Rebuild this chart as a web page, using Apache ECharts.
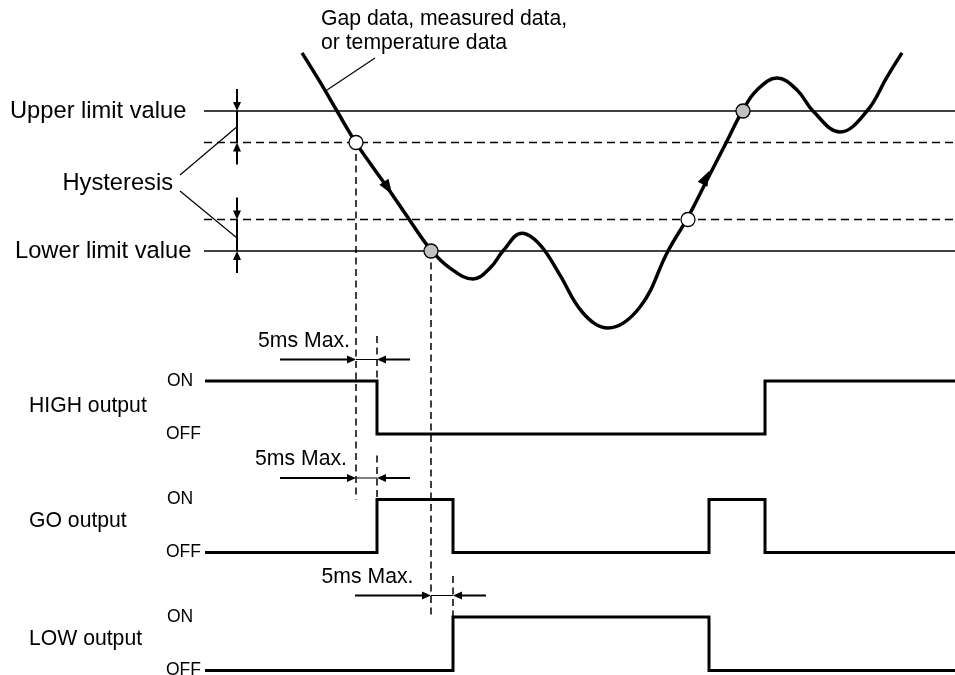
<!DOCTYPE html>
<html>
<head>
<meta charset="utf-8">
<script src="https://cdn.jsdelivr.net/npm/echarts/dist/echarts.min.js"></script>
<style>
html,body{margin:0;padding:0;background:#fff;}
#c{width:955px;height:675px;}
</style>
</head>
<body>
<div id="c"></div>
<script>
// ---------------- data ----------------
// analog signal (gap / measured / temperature data): time vs value
const curveT = [302, 320, 337, 356, 372, 387, 409, 431, 450, 473, 490, 503, 522, 533, 545, 560, 583, 608, 640, 668, 688, 707, 725, 743, 757, 777, 797, 813, 840, 867, 887, 902];
const curveV = [116.6, 108.3, 100.0, 90.9, 84.3, 78.3, 69.1, 60.3, 55.1, 52.0, 55.1, 60.0, 65.1, 63.7, 60.0, 53.1, 42.3, 38.0, 44.0, 60.0, 69.7, 80.3, 90.3, 100.3, 106.0, 109.4, 106.0, 100.0, 94.0, 100.0, 109.7, 116.6];
const upperLimit = 100;
const lowerLimit = 60;
const hysteresis = 9;
const levelLabels = ['Upper limit value', 'Lower limit value'];
const hystLabel = 'Hysteresis';
const curveLabel = ['Gap data, measured data,', 'or temperature data'];
// threshold crossings
const resetT = [356, 688];          // hysteresis line crossings (white markers)
const resetV = [upperLimit - hysteresis, lowerLimit + hysteresis];
const limitT = [431, 743];          // limit line crossings (grey markers)
const limitV = [lowerLimit, upperLimit];
// direction arrows on the curve
const arrowT = [388, 706];
const arrowV = [78.0, 81.0];
// digital outputs: change times and states (1 = ON, 0 = OFF)
const outputNames = ['HIGH output', 'GO output', 'LOW output'];
const stateLabels = ['ON', 'OFF'];
const highT = [205, 377, 765, 955], highS = [1, 0, 1, 1];
const goT   = [205, 377, 453, 709, 765, 955], goS = [0, 1, 0, 1, 0, 0];
const lowT  = [205, 453, 709, 955], lowS = [0, 1, 0, 0];
const delayLabel = '5ms Max.';

// ---------------- layout / style ----------------
const FONT = '"Liberation Sans", Arial, Helvetica, sans-serif';
const lineStart = 204, lineEnd = 955;
const arrowRot = [-147, -27];
const grids = [
  {left: 0, top: 41, width: 955, height: 315},
  {left: 0, top: 381, width: 955, height: 53},
  {left: 0, top: 499.5, width: 955, height: 53},
  {left: 0, top: 617, width: 955, height: 53.5}
];
const yRanges = [[30, 120], [0, 1], [0, 1], [0, 1]];

const chart = echarts.init(document.getElementById('c'), null, {renderer: 'canvas'});
const series = [];
const levels = [
  {v: upperLimit, dashed: false},
  {v: upperLimit - hysteresis, dashed: true},
  {v: lowerLimit + hysteresis, dashed: true},
  {v: lowerLimit, dashed: false}
];
levels.forEach(d => series.push({
  type: 'line', xAxisIndex: 0, yAxisIndex: 0,
  data: [[lineStart, d.v], [lineEnd, d.v]],
  symbol: 'none', clip: false, silent: true, z: 1,
  lineStyle: {color: '#000', width: 1.5, type: d.dashed ? [8, 5] : 'solid'}
}));
series.push({
  type: 'line', xAxisIndex: 0, yAxisIndex: 0,
  data: curveT.map((t, i) => [t, curveV[i]]),
  smooth: 0.4, symbol: 'none', clip: false, silent: true, z: 3,
  lineStyle: {color: '#000', width: 3.5}
});
series.push({
  type: 'scatter', xAxisIndex: 0, yAxisIndex: 0,
  data: arrowT.map((t, i) => ({value: [t, arrowV[i]], symbolRotate: arrowRot[i]})),
  symbol: 'triangle', symbolSize: [11, 15], silent: true, z: 4,
  itemStyle: {color: '#000', opacity: 1}
});
series.push({
  type: 'scatter', xAxisIndex: 0, yAxisIndex: 0,
  data: resetT.map((t, i) => [t, resetV[i]]),
  symbol: 'circle', symbolSize: 14, silent: true, z: 6,
  itemStyle: {color: '#fff', borderColor: '#000', borderWidth: 1.3, opacity: 1}
});
series.push({
  type: 'scatter', xAxisIndex: 0, yAxisIndex: 0,
  data: limitT.map((t, i) => [t, limitV[i]]),
  symbol: 'circle', symbolSize: 14, silent: true, z: 6,
  itemStyle: {color: '#c0c0c0', borderColor: '#000', borderWidth: 1.3, opacity: 1}
});
[[highT, highS], [goT, goS], [lowT, lowS]].forEach(([T, S], i) => series.push({
  type: 'line', xAxisIndex: i + 1, yAxisIndex: i + 1,
  step: 'end', data: T.map((t, j) => [t, S[j]]),
  symbol: 'none', clip: false, silent: true, z: 3,
  lineStyle: {color: '#000', width: 3, join: 'miter', cap: 'butt'}
}));

chart.setOption({
  animation: false,
  backgroundColor: '#fff',
  grid: grids,
  xAxis: grids.map((g, i) => ({gridIndex: i, type: 'value', min: 0, max: 955, show: false})),
  yAxis: grids.map((g, i) => ({gridIndex: i, type: 'value', min: yRanges[i][0], max: yRanges[i][1], show: false})),
  series: series
});

// ---------------- annotations (positions from the chart's scales) ----------------
const P = (g, t, v) => chart.convertToPixel({gridIndex: g}, [t, v]);
const els = [];
function seg(x1, y1, x2, y2, w, dash) {
  els.push({type: 'line', silent: true, z: 1,
    shape: {x1: x1, y1: y1, x2: x2, y2: y2},
    style: {stroke: '#000', lineWidth: w, lineDash: dash || null}});
}
function head(x, y, dir, len, wid) {
  let pts;
  if (dir === 'down') pts = [[x, y], [x - wid / 2, y - len], [x + wid / 2, y - len]];
  else if (dir === 'up') pts = [[x, y], [x - wid / 2, y + len], [x + wid / 2, y + len]];
  else if (dir === 'right') pts = [[x, y], [x - len, y - wid / 2], [x - len, y + wid / 2]];
  else pts = [[x, y], [x + len, y - wid / 2], [x + len, y + wid / 2]];
  els.push({type: 'polygon', silent: true, z: 2, shape: {points: pts}, style: {fill: '#000'}});
}
function arrow(x, y, dir, shaft, w) {
  if (dir === 'down') seg(x, y - shaft, x, y - 4, w);
  else if (dir === 'up') seg(x, y + shaft, x, y + 4, w);
  else if (dir === 'right') seg(x - shaft, y, x - 4, y, w);
  else seg(x + shaft, y, x + 4, y, w);
  head(x, y, dir, 9, 8);
}
function text(x, y, str, size, align) {
  els.push({type: 'text', silent: true, z: 5, x: x, y: y,
    style: {text: str, fontSize: size, fontFamily: FONT, fill: '#000',
      align: align || 'left', verticalAlign: 'middle'}});
}

// level labels
const yU = P(0, 0, upperLimit)[1], yUh = P(0, 0, upperLimit - hysteresis)[1];
const yL = P(0, 0, lowerLimit)[1], yLh = P(0, 0, lowerLimit + hysteresis)[1];
text(10, yU, levelLabels[0], 23.7);
text(15, yL, levelLabels[1], 23.7);

// hysteresis dimension arrows
const hx = 237;
arrow(hx, yU, 'down', 22, 2);
seg(hx, yU, hx, yUh, 2);
arrow(hx, yUh, 'up', 22, 2);
arrow(hx, yLh, 'down', 22, 2);
seg(hx, yLh, hx, yL, 2);
arrow(hx, yL, 'up', 22, 2);
text(173, 183, hystLabel, 23.7, 'right');
seg(180, 175, hx, (yU + yUh) / 2, 1.2);
seg(180, 191, hx, yL - 13, 1.2);

// curve callout
text(321, 19, curveLabel[0], 21.2);
text(321, 43.5, curveLabel[1], 21.2);
const cp = P(0, 327, 106);
seg(375, 58, cp[0], cp[1], 1.2);

// event (dashed) lines
const dash = [7, 4.5];
const on = [1, 2, 3].map(g => P(g, 0, 1)[1]);
const off = [1, 2, 3].map(g => P(g, 0, 0)[1]);
let a = P(0, resetT[0], resetV[0]);
seg(a[0], a[1], a[0], on[1], 1.5, dash);
a = P(0, limitT[0], limitV[0]);
seg(a[0], a[1], a[0], on[2], 1.5, dash);
const resp = [highT[1], goT[1], lowT[1]];
const det = [resetT[0], resetT[0], limitT[0]];
const tickLen = [45, 44, 41];
const labDx = [-52, -55, -63.5];
resp.forEach((r, i) => {
  const rx = P(i + 1, r, 1)[0];
  const dx = P(i + 1, det[i], 1)[0];
  seg(rx, on[i] - tickLen[i], rx, on[i], 1.5, dash);
  const ay = on[i] - 21.5;
  arrow(dx, ay, 'right', 76, 2);
  seg(dx, ay, rx, ay, 1);
  arrow(rx, ay, 'left', 33, 2);
  text(dx + labDx[i], ay - 18.5, delayLabel, 21.2, 'center');
});

// output labels
const nameDy = [25, 21.5, 22];
outputNames.forEach((n, i) => {
  text(29, on[i] + nameDy[i], n, 21.2);
  text(167, on[i], stateLabels[0], 17.5);
  text(166, off[i], stateLabels[1], 17.5);
});

chart.setOption({graphic: {elements: els}});
</script>
</body>
</html>
